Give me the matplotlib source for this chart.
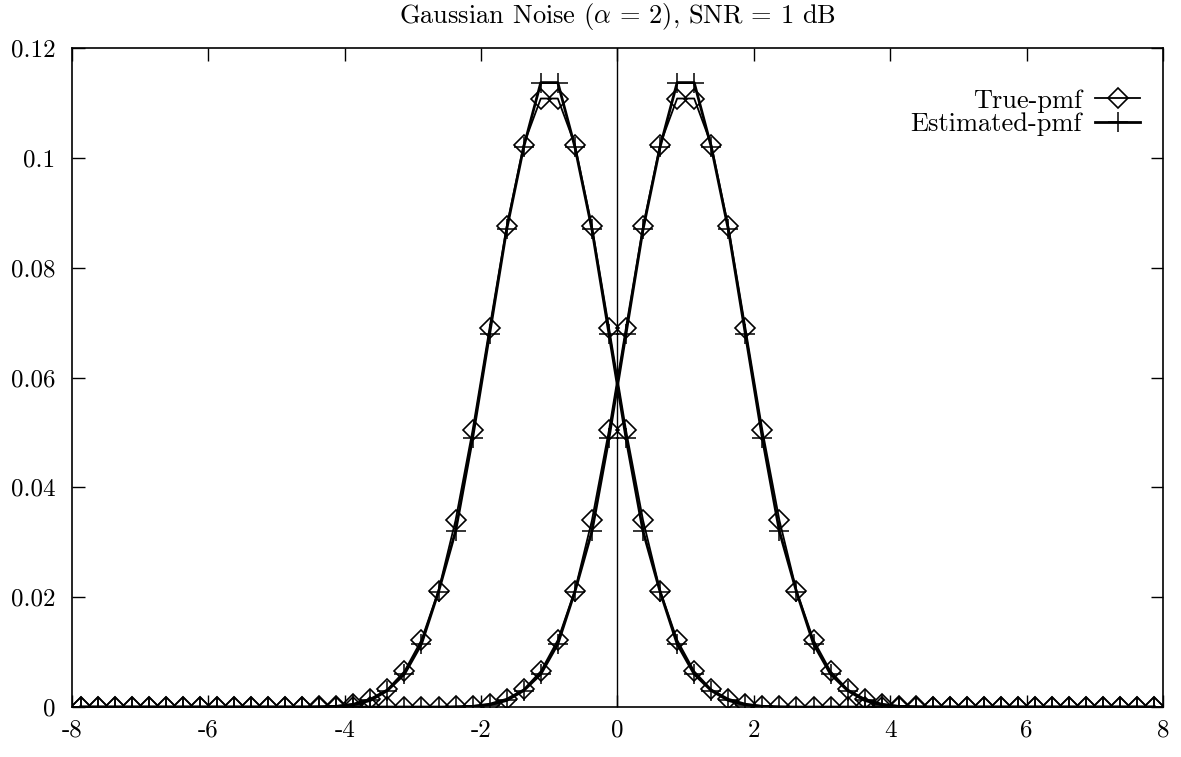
import numpy as np
import matplotlib
matplotlib.use('Agg')
from matplotlib import pyplot as plt

plt.rcParams['font.family'] = 'serif'
plt.rcParams['font.serif'] = ['cmr10', 'DejaVu Serif']
plt.rcParams['mathtext.fontset'] = 'cm'
plt.rcParams['axes.formatter.use_mathtext'] = True

# bin centres of the pmf
x = [-7.875, -7.625, -7.375, -7.125, -6.875, -6.625, -6.375, -6.125,
     -5.875, -5.625, -5.375, -5.125, -4.875, -4.625, -4.375, -4.125,
     -3.875, -3.625, -3.375, -3.125, -2.875, -2.625, -2.375, -2.125,
     -1.875, -1.625, -1.375, -1.125, -0.875, -0.625, -0.375, -0.125,
     0.125, 0.375, 0.625, 0.875, 1.125, 1.375, 1.625, 1.875,
     2.125, 2.375, 2.625, 2.875, 3.125, 3.375, 3.625, 3.875,
     4.125, 4.375, 4.625, 4.875, 5.125, 5.375, 5.625, 5.875,
     6.125, 6.375, 6.625, 6.875, 7.125, 7.375, 7.625, 7.875]

# true pmf, symbol +1 (right bump)
true_pos = [0, 0, 0, 0, 0, 0, 0, 0,
            0, 0, 0, 0, 0, 0, 0, 0,
            0, 0, 0, 0, 0, 0, 0.0001, 0.0002,
            0.0006, 0.0015, 0.0032, 0.0065, 0.0122, 0.0212, 0.034, 0.0504,
            0.0691, 0.0875, 0.1024, 0.1108, 0.1108, 0.1024, 0.0875, 0.0691,
            0.0504, 0.034, 0.0212, 0.0122, 0.0065, 0.0032, 0.0015, 0.0006,
            0.0002, 0.0001, 0, 0, 0, 0, 0, 0,
            0, 0, 0, 0, 0, 0, 0, 0]
# estimated pmf, symbol +1
est_pos = [0, 0, 0, 0, 0, 0, 0, 0,
           0, 0, 0, 0, 0, 0, 0, 0,
           0, 0, 0, 0, 0, 0, 0, 0.0001,
           0.0004, 0.0012, 0.003, 0.006, 0.0115, 0.021, 0.032, 0.049,
           0.068, 0.087, 0.102, 0.1137, 0.1137, 0.102, 0.087, 0.068,
           0.049, 0.032, 0.021, 0.0115, 0.006, 0.003, 0.0012, 0.0004,
           0.0001, 0, 0, 0, 0, 0, 0, 0,
           0, 0, 0, 0, 0, 0, 0, 0]
# symbol -1 (left bump)
true_neg = [0, 0, 0, 0, 0, 0, 0, 0,
            0, 0, 0, 0, 0, 0, 0.0001, 0.0002,
            0.0006, 0.0015, 0.0032, 0.0065, 0.0122, 0.0212, 0.034, 0.0504,
            0.0691, 0.0875, 0.1024, 0.1108, 0.1108, 0.1024, 0.0875, 0.0691,
            0.0504, 0.034, 0.0212, 0.0122, 0.0065, 0.0032, 0.0015, 0.0006,
            0.0002, 0.0001, 0, 0, 0, 0, 0, 0,
            0, 0, 0, 0, 0, 0, 0, 0,
            0, 0, 0, 0, 0, 0, 0, 0]
est_neg = [0, 0, 0, 0, 0, 0, 0, 0,
           0, 0, 0, 0, 0, 0, 0, 0.0001,
           0.0004, 0.0012, 0.003, 0.006, 0.0115, 0.021, 0.032, 0.049,
           0.068, 0.087, 0.102, 0.1137, 0.1137, 0.102, 0.087, 0.068,
           0.049, 0.032, 0.021, 0.0115, 0.006, 0.003, 0.0012, 0.0004,
           0.0001, 0, 0, 0, 0, 0, 0, 0,
           0, 0, 0, 0, 0, 0, 0, 0,
           0, 0, 0, 0, 0, 0, 0, 0]

xticks = [-8, -6, -4, -2, 0, 2, 4, 6, 8]
yticks = [0, 0.02, 0.04, 0.06, 0.08, 0.1, 0.12]
ytick_labels = ['0', '0.02', '0.04', '0.06', '0.08', '0.1', '0.12']

fig = plt.figure(figsize=(11.81, 7.57), dpi=100)
ax = fig.add_axes([0.061, 0.066, 0.9237, 0.8706])

true_style = dict(color='black', lw=1.3, marker='D', ms=10, mfc='none',
                  mec='black', mew=1.2)
est_style = dict(color='black', lw=2.0, marker='+', ms=14, mew=1.1)

ax.plot(x, true_neg, label='True-pmf', **true_style)
ax.plot(x, est_neg, label='Estimated-pmf', **est_style)
ax.plot(x, true_pos, **true_style)
ax.plot(x, est_pos, **est_style)

ax.axvline(0, color='black', lw=1.0, zorder=0)

ax.set_xlim(-8, 8)
ax.set_ylim(0, 0.12)
ax.set_xticks(xticks)
ax.set_xticklabels([str(t) for t in xticks])
ax.set_yticks(yticks)
ax.set_yticklabels(ytick_labels)
ax.tick_params(direction='in', length=9, width=1.0, top=True, right=True,
               labelsize=18)
ax.tick_params(axis='y', pad=12)
ax.tick_params(axis='x', pad=9)
for s in ax.spines.values():
    s.set_linewidth(1.2)

ax.set_title(r'Gaussian Noise ($\alpha$ = 2), SNR = 1 dB', fontsize=19, pad=18)

ax.legend(loc='upper right', bbox_to_anchor=(0.979, 0.938), frameon=False,
          markerfirst=False, fontsize=19, handlelength=1.7, handletextpad=0.5,
          labelspacing=0.0, borderpad=0, borderaxespad=0)

fig.savefig('out.png', dpi=100)
